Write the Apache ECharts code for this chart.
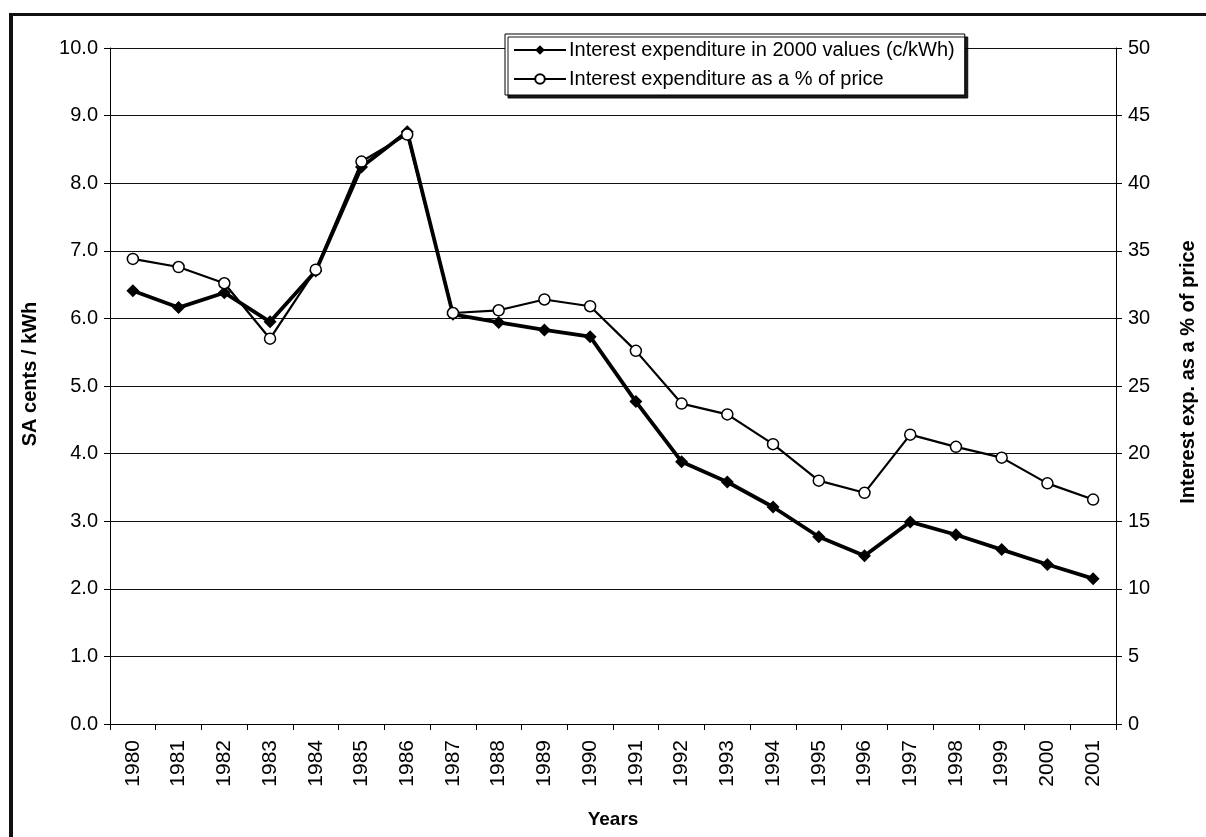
<!DOCTYPE html>
<html lang="en">

<head>
    <meta charset="UTF-8">
    <title>Interest expenditure</title>
    <style>
        html, body { margin: 0; padding: 0; background: #fff; }
        #frame {
            position: absolute; left: 9px; top: 13px; width: 1197px; height: 824px;
            border-left: 4px solid #111; border-top: 3px solid #111;
            box-sizing: border-box;
        }
        #chart { position: absolute; left: 0; top: 0; width: 1206px; height: 837px; }
    </style>
</head>

<body>
    <div id="frame"></div>
    <div id="chart"></div>
    <script src="https://cdn.jsdelivr.net/npm/echarts@6/dist/echarts.min.js"></script>
    <script>
        var years = ['1980', '1981', '1982', '1983', '1984', '1985', '1986', '1987', '1988', '1989', '1990',
            '1991', '1992', '1993', '1994', '1995', '1996', '1997', '1998', '1999', '2000', '2001'];
        // c/kWh in 2000 values (left axis)
        var centsPerKwh = [6.41, 6.16, 6.38, 5.95, 6.70, 8.24, 8.76, 6.06, 5.94, 5.83, 5.73,
            4.77, 3.88, 3.58, 3.21, 2.77, 2.49, 2.99, 2.80, 2.58, 2.36, 2.15];
        // % of price (right axis)
        var pctOfPrice = [34.4, 33.8, 32.6, 28.5, 33.6, 41.6, 43.6, 30.4, 30.6, 31.4, 30.9,
            27.6, 23.7, 22.9, 20.7, 18.0, 17.1, 21.4, 20.5, 19.7, 17.8, 16.6];

        var font = 'Arial, "Liberation Sans", sans-serif';
        var myChart = echarts.init(document.getElementById('chart'));
        var option = {
            animation: false,
            textStyle: { fontFamily: font, color: '#000' },
            grid: { left: 110, right: 84, top: 48, bottom: 113 },
            legend: {
                left: 505, top: 34,
                orient: 'vertical',
                backgroundColor: '#fff',
                borderColor: '#000', borderWidth: 1,
                shadowColor: 'rgba(0,0,0,0.9)', shadowOffsetX: 3, shadowOffsetY: 3, shadowBlur: 0,
                padding: [6, 10, 6, 8],
                itemGap: 9,
                itemWidth: 52, itemHeight: 12,
                textStyle: { fontSize: 20, fontFamily: font, color: '#000', padding: [0, 0, 0, -2] },
                data: ['Interest expenditure in 2000 values (c/kWh)', 'Interest expenditure as a % of price']
            },
            xAxis: {
                type: 'category',
                data: years,
                boundaryGap: true,
                name: 'Years',
                nameLocation: 'middle',
                nameGap: 86,
                nameTextStyle: { fontSize: 19, fontWeight: 'bold', color: '#000' },
                axisLine: { lineStyle: { color: '#000', width: 1 } },
                axisTick: { show: true, alignWithLabel: false, length: 6, lineStyle: { color: '#000' } },
                axisLabel: { rotate: 90, fontSize: 21, color: '#000', margin: 16, interval: 0 }
            },
            yAxis: [{
                type: 'value',
                min: 0, max: 10, interval: 1,
                name: 'SA cents / kWh',
                nameLocation: 'middle',
                nameGap: 70,
                nameTextStyle: { fontSize: 20, fontWeight: 'bold', color: '#000', padding: [0, 0, 0, 24] },
                axisLine: { show: true, lineStyle: { color: '#000' } },
                axisTick: { show: true, length: 6, lineStyle: { color: '#000' } },
                axisLabel: { fontSize: 20, color: '#000', margin: 12, formatter: function (v) { return v.toFixed(1); } },
                splitLine: { show: true, lineStyle: { color: '#111', width: 1 } }
            }, {
                type: 'value',
                min: 0, max: 50, interval: 5,
                name: 'Interest exp. as a % of price',
                nameLocation: 'middle',
                nameGap: 62,
                nameTextStyle: { fontSize: 20, fontWeight: 'bold', color: '#000', padding: [0, 0, 0, 28] },
                axisLine: { show: true, lineStyle: { color: '#000' } },
                axisTick: { show: true, length: 6, lineStyle: { color: '#000' } },
                axisLabel: { fontSize: 20, color: '#000', margin: 12 },
                splitLine: { show: false }
            }],
            series: [{
                name: 'Interest expenditure as a % of price',
                type: 'line',
                yAxisIndex: 1,
                data: pctOfPrice,
                symbol: 'circle',
                symbolSize: 11,
                itemStyle: { color: '#fff', borderColor: '#000', borderWidth: 1.5 },
                lineStyle: { color: '#000', width: 2.2 },
                z: 3
            }, {
                name: 'Interest expenditure in 2000 values (c/kWh)',
                type: 'line',
                yAxisIndex: 0,
                data: centsPerKwh,
                symbol: 'diamond',
                symbolSize: 13,
                itemStyle: { color: '#000', borderColor: '#000', borderWidth: 0 },
                lineStyle: { color: '#000', width: 3.8 },
                z: 2
            }]
        };
        myChart.setOption(option);
    </script>
</body>

</html>
